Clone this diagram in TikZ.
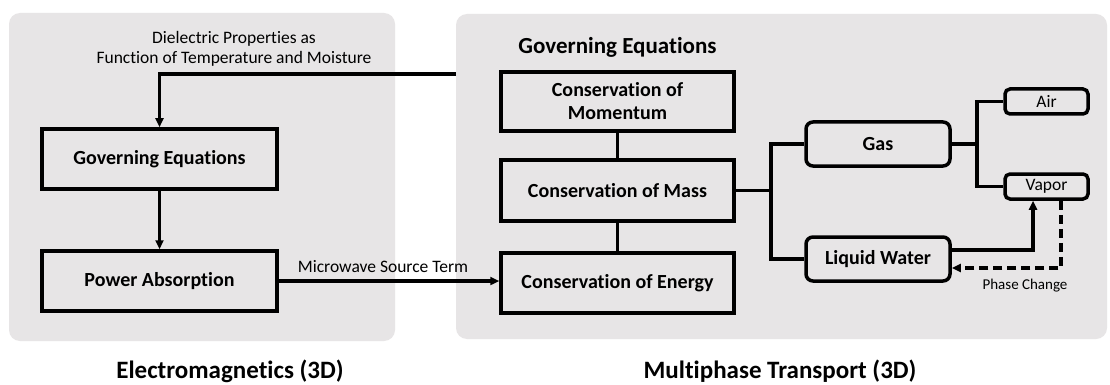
\documentclass[tikz,border=0pt]{standalone}
\usepackage{fontspec}
\setmainfont{Carlito}[Ligatures={NoCommon}]
\usetikzlibrary{arrows.meta}
\definecolor{panelgray}{RGB}{231,229,230}
\tikzset{
  panel/.style={fill=panelgray, rounded corners=11pt},
  sqbox/.style={draw=black, line width=3.5pt, font=\fontsize{20}{23}\selectfont\bfseries, align=center, inner sep=0pt},
  rbox/.style={draw=black, line width=3.5pt, rounded corners=7pt, font=\fontsize{20}{23}\selectfont\bfseries, align=center, inner sep=0pt},
  sbox/.style={draw=black, line width=3.5pt, rounded corners=5pt, font=\fontsize{17.5}{19}\selectfont, inner sep=0pt},
  conn/.style={draw=black, line width=3.2pt},
  arr/.style={conn, -{Triangle[length=9pt,width=8pt]}},
  lbl/.style={font=\fontsize{17.5}{20}\selectfont, align=center, inner sep=0pt},
  big/.style={font=\fontsize{25}{28}\selectfont\bfseries, inner sep=0pt},
}
\begin{document}
\begin{tikzpicture}[x=1pt,y=-1pt]
\useasboundingbox (0,0) rectangle (1110,385);
\fill[white] (0,0) rectangle (1110,385);
% panels
\path[panel] (9,13) rectangle (395,341);
\path[panel] (456,14) rectangle (1107,339);
% left side
\node[lbl] (diel) at (234,49) {Dielectric Properties as\\Function of Temperature and Moisture};
\node[sqbox, minimum width=235pt, minimum height=60pt] (lge) at (159.5,159) {Governing Equations};
\node[sqbox, minimum width=235pt, minimum height=60pt] (pa) at (159.5,281) {Power Absorption};
% right side
\node[font=\fontsize{23}{26}\selectfont\bfseries, inner sep=0pt] (rtitle) at (617.5,47) {Governing Equations};
\node[sqbox, minimum width=233pt, minimum height=59pt] (mom) at (617.5,101.5) {Conservation of\\Momentum};
\node[sqbox, minimum width=233pt, minimum height=61pt] (mass) at (617.5,190.5) {Conservation of Mass};
\node[sqbox, minimum width=233pt, minimum height=60pt] (energy) at (617.5,283) {Conservation of Energy};
\node[rbox, minimum width=144pt, minimum height=44pt] (gas) at (878,144) {Gas};
\node[rbox, minimum width=144pt, minimum height=44pt] (lw) at (878,259) {Liquid Water};
\node[sbox, minimum width=83pt, minimum height=25pt] (air) at (1046.5,101.5) {Air};
\node[sbox, minimum width=83pt, minimum height=25pt] (vapor) at (1046.5,186.5) {Vapor};
\node[lbl, font=\fontsize{15}{18}\selectfont] (pc) at (1025,286) {Phase Change};
\node[lbl] (mw) at (383,267) {Microwave Source Term};
% bottom labels
\node[big, anchor=base] (em) at (230,378) {Electromagnetics (3D)};
\node[big, anchor=base] (mt) at (780,378) {Multiphase Transport (3D)};
% connectors
\coordinate (dstart) at (456,74);
\draw[arr] (dstart) -| (lge.north);
\draw[arr] (lge) -- (pa);
\draw[arr] (pa.east) -- (pa.east -| energy.west);
\draw[conn] (mom) -- (mass);
\draw[conn] (mass) -- (energy);
\coordinate (mj) at (771,190.5);
\draw[conn] (mass.east) -- (mj) |- (gas.west);
\draw[conn] (mj) |- (lw.west);
\coordinate (gj) at (977,144);
\draw[conn] (gas.east) -- (gj) |- (air.west);
\draw[conn] (gj) |- (vapor.west);
\draw[arr] ([yshift=9pt]lw.east) -| ([xshift=-13.5pt]vapor.south);
\draw[arr, dash pattern=on 9pt off 5pt] ([xshift=14.5pt]vapor.south) |- ([yshift=-9pt]lw.east);
\end{tikzpicture}
\end{document}
